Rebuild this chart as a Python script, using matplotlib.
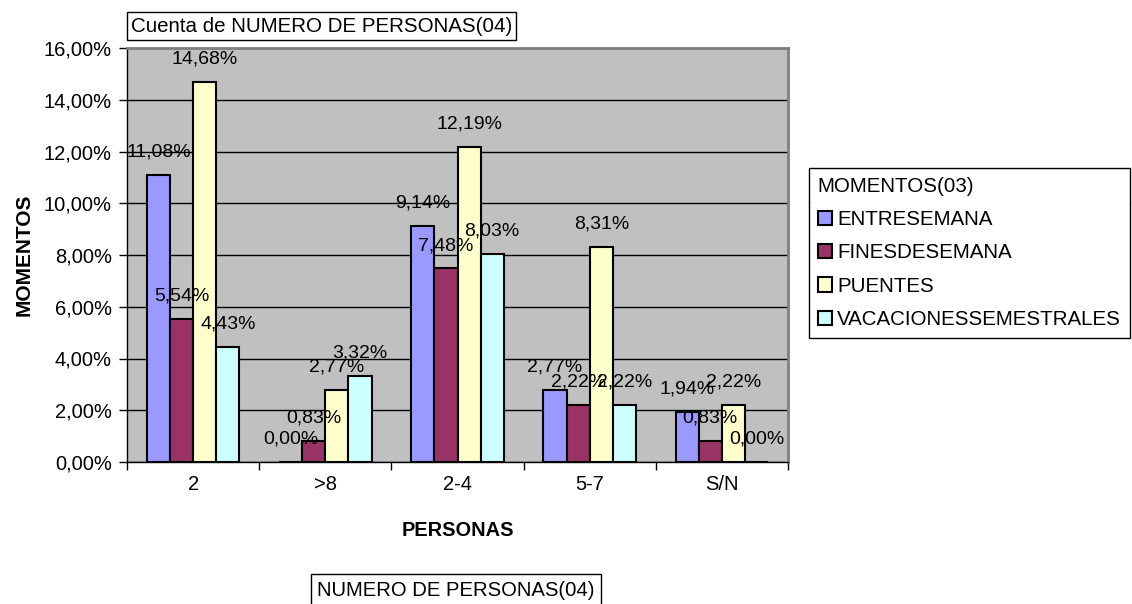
import numpy as np
import matplotlib
matplotlib.use('Agg')
import matplotlib.pyplot as plt
from matplotlib.ticker import FuncFormatter, MultipleLocator
from matplotlib.patches import Patch
from matplotlib.lines import Line2D

plt.rcParams['font.family'] = ['Liberation Sans', 'DejaVu Sans']

categories = ['2', '>8', '2-4', '5-7', 'S/N']
entresemana = [11.08, 0.00, 9.14, 2.77, 1.94]
finesdesemana = [5.54, 0.83, 7.48, 2.22, 0.83]
puentes = [14.68, 2.77, 12.19, 8.31, 2.22]
vacaciones = [4.43, 3.32, 8.03, 2.22, 0.00]

series = [
    ('ENTRESEMANA', entresemana, '#9999FF'),
    ('FINESDESEMANA', finesdesemana, '#993366'),
    ('PUENTES', puentes, '#FFFFCC'),
    ('VACACIONESSEMESTRALES', vacaciones, '#CCFFFF'),
]

W, H = 1132, 604
fig = plt.figure(figsize=(W / 100, H / 100), dpi=100)
ax = fig.add_axes([127 / W, 1 - 462 / H, 661 / W, (462 - 48) / H])
ax.set_facecolor('#C0C0C0')

x = np.arange(len(categories))
bw = 0.175
for i, (name, vals, col) in enumerate(series):
    pos = x + (i - 1.5) * bw
    ax.bar(pos, vals, width=bw, color=col, edgecolor='black', linewidth=1.5, zorder=3)
    for px, v in zip(pos, vals):
        ax.annotate(f'{v:.2f}%'.replace('.', ','), (px, v), xytext=(0, 16.5),
                    textcoords='offset points', ha='center', va='center',
                    fontsize=14, zorder=5)

ax.set_xlim(-0.5, len(categories) - 0.5)
ax.set_ylim(0, 16)
ax.yaxis.set_major_locator(MultipleLocator(2))
ax.yaxis.set_major_formatter(FuncFormatter(lambda v, p: f'{v:.2f}%'.replace('.', ',')))
ax.grid(axis='y', color='black', linewidth=1, zorder=1)
ax.set_axisbelow(True)

ax.set_xticks(x)
ax.set_xticklabels(categories)
ax.set_xticks(np.arange(len(categories) + 1) - 0.5, minor=True)
ax.tick_params(axis='x', which='major', length=0, pad=9, labelsize=14.5)
ax.tick_params(axis='x', which='minor', length=6, width=1, direction='out')
ax.tick_params(axis='y', length=6, width=1, direction='out', labelsize=14.5, pad=5)

for s in ['left', 'bottom']:
    ax.spines[s].set_color('black')
    ax.spines[s].set_linewidth(1)
for s in ['top', 'right']:
    ax.spines[s].set_color('#808080')
    ax.spines[s].set_linewidth(2)

ax.set_xlabel('PERSONAS', fontsize=14.4, fontweight='bold', labelpad=20)
ax.set_ylabel('MOMENTOS', fontsize=15, fontweight='bold', labelpad=7)

# title box at top
fig.text(131 / W, 1 - 26 / H, 'Cuenta de NUMERO DE PERSONAS(04)', fontsize=14.8,
         ha='left', va='center',
         bbox=dict(boxstyle='square,pad=0.2', facecolor='white', edgecolor='black', linewidth=1))

# field box at bottom
fig.text(317 / W, 1 - 590 / H, 'NUMERO DE PERSONAS(04)', fontsize=14.6,
         ha='left', va='center',
         bbox=dict(boxstyle='square,pad=0.3', facecolor='white', edgecolor='black', linewidth=1))

# legend
handles = [Patch(facecolor=col, edgecolor='black', linewidth=1.5) for _, _, col in series]
labels = [name for name, _, _ in series]
leg = fig.legend(handles, labels, title='MOMENTOS(03)', loc='upper left',
                 bbox_to_anchor=(809 / W, 1 - 168 / H), fontsize=14.8, title_fontsize=14.8,
                 frameon=True, fancybox=False, edgecolor='black', framealpha=1,
                 handlelength=0.7, handleheight=0.7, handletextpad=0.25,
                 labelspacing=0.7, borderpad=0.42, borderaxespad=0,
                 alignment='left')
leg.get_frame().set_linewidth(1)

fig.canvas.draw()
bb = leg.get_window_extent()
sep_y = 1 - 202 / H
fig.add_artist(Line2D([bb.x0 / W, bb.x1 / W], [sep_y, sep_y], color='black', linewidth=1,
                      transform=fig.transFigure))

fig.savefig('out.png', dpi=100)
